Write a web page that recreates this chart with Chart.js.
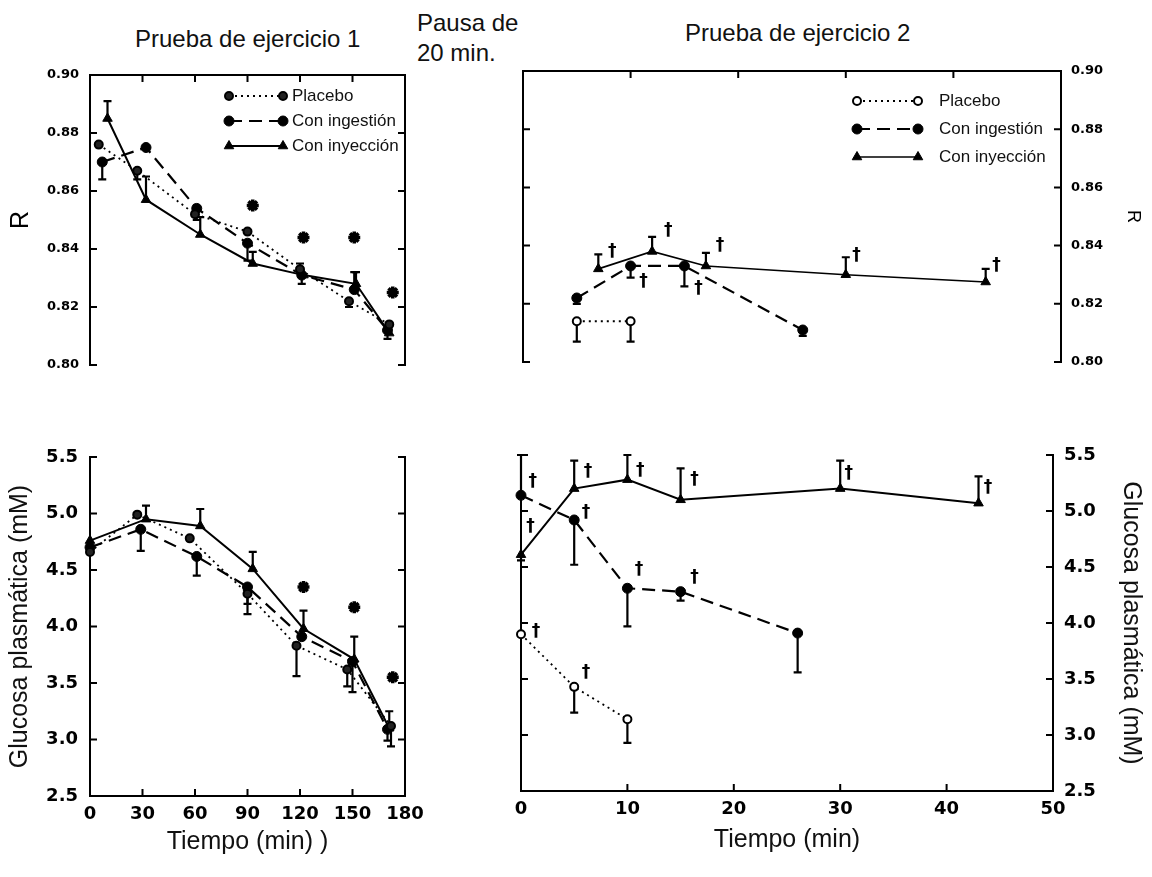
<!DOCTYPE html>
<html>
<head>
<meta charset="utf-8">
<script src="https://cdn.jsdelivr.net/npm/chart.js@4.4.0/dist/chart.umd.min.js"></script>
<style>
  body { margin:0; background:#fff; width:1152px; height:877px; position:relative; overflow:hidden;
         font-family:"Liberation Sans", Arial, sans-serif; color:#111; }
  canvas { position:absolute; left:0; top:0; }
  .lbl { position:absolute; font-size:24px; line-height:1; white-space:nowrap; }
</style>
</head>
<body>
<div class="lbl" style="left:135px;top:27px">Prueba de ejercicio 1</div>
<div class="lbl" style="left:417px;top:11px">Pausa de</div>
<div class="lbl" style="left:417px;top:41px">20 min.</div>
<div class="lbl" style="left:685px;top:21px">Prueba de ejercicio 2</div>
<canvas id="tl" width="1152" height="877"></canvas>
<canvas id="tr" width="1152" height="877"></canvas>
<canvas id="bl" width="1152" height="877"></canvas>
<canvas id="br" width="1152" height="877"></canvas>
<script>
// ---- Prueba 1, R (cociente respiratorio) ----
const t1Placebo   = [5, 27, 60, 90, 120, 148, 171];
const r1Placebo   = [0.876, 0.867, 0.852, 0.846, 0.833, 0.822, 0.814];
const r1PlaceboErr = [0, -0.003, 0, 0, 0.002, -0.002, 0];
const t1Ingestion = [7, 32, 61, 90, 121, 151, 170];
const r1Ingestion = [0.870, 0.875, 0.854, 0.842, 0.831, 0.826, 0.812];
const r1IngestionErr = [-0.006, 0, -0.004, -0.006, -0.003, 0.006, -0.003];
const t1Inyeccion = [10, 32, 63, 93, 122, 152, 171];
const r1Inyeccion = [0.885, 0.857, 0.845, 0.835, 0.831, 0.828, 0.811];
const r1InyeccionErr = [0.006, 0.008, 0.006, 0.004, 0, 0.004, 0.003];
const t1StarR = [93, 122, 151, 173];
const r1Star  = [0.855, 0.844, 0.844, 0.825];

// ---- Prueba 1, glucosa ----
const g1PlaceboT = [0, 27, 57, 90, 118, 147, 172];
const g1Placebo  = [4.66, 4.99, 4.78, 4.29, 3.83, 3.62, 3.12];
const g1PlaceboErr = [0, 0, 0, -0.18, -0.27, -0.15, -0.18];
const g1IngestionT = [0, 29, 61, 90, 121, 150, 170];
const g1Ingestion  = [4.70, 4.86, 4.62, 4.35, 3.91, 3.69, 3.09];
const g1IngestionErr = [0, -0.19, -0.17, -0.15, 0, -0.27, -0.1];
const g1InyeccionT = [0, 32, 63, 93, 122, 151, 171];
const g1Inyeccion  = [4.76, 4.95, 4.89, 4.51, 3.98, 3.71, 3.10];
const g1InyeccionErr = [0, 0.12, 0.15, 0.15, 0.16, 0.2, 0.15];
const t1StarG = [122, 151, 173];
const g1Star  = [4.35, 4.17, 3.55];

// ---- Prueba 2, R ----
const t2Placebo = [5, 10];
const r2Placebo = [0.814, 0.814];
const r2PlaceboErr = [-0.007, -0.007];
const t2Ingestion = [5, 10, 15, 26];
const r2Ingestion = [0.822, 0.833, 0.833, 0.811];
const r2IngestionErr = [-0.002, -0.004, -0.007, -0.002];
const t2Inyeccion = [7, 12, 17, 30, 43];
const r2Inyeccion = [0.832, 0.838, 0.833, 0.830, 0.8275];
const r2InyeccionErr = [0.005, 0.005, 0.0045, 0.006, 0.0045];
const t2DagR = [8.3, 13.5, 18.3, 31, 44, 11.2, 16.3];
const r2Dag  = [0.838, 0.845, 0.840, 0.8366, 0.833, 0.8276, 0.8252];

// ---- Prueba 2, glucosa ----
const g2PlaceboT = [0, 5, 10];
const g2Placebo  = [3.90, 3.43, 3.14];
const g2PlaceboErr = [0, -0.23, -0.21];
const g2IngestionT = [0, 5, 10, 15, 26];
const g2Ingestion  = [5.14, 4.92, 4.31, 4.28, 3.91];
const g2IngestionErr = [0.36, -0.4, -0.34, -0.08, -0.35];
const g2InyeccionT = [0, 5, 10, 15, 30, 43];
const g2Inyeccion  = [4.61, 5.20, 5.28, 5.10, 5.20, 5.07];
const g2InyeccionErr = [-0.05, 0.25, 0.22, 0.28, 0.25, 0.24];
const t2DagG = [1.1, 0.9, 6.3, 11.2, 16.3, 30.8, 43.9, 6.1, 11.1, 16.3, 1.4, 6.1];
const g2Dag  = [5.26, 4.86, 5.35, 5.36, 5.28, 5.33, 5.21, 4.99, 4.48, 4.41, 3.92, 3.56];

const rTicks = [0.80, 0.82, 0.84, 0.86, 0.88, 0.90];
const gTicks = [2.5, 3.0, 3.5, 4.0, 4.5, 5.0, 5.5];

// caja con marcas hacia dentro
const frame = {
  id: 'frame',
  beforeDatasetsDraw(chart, args, o) {
    const {ctx, chartArea: a, scales: {x, y}} = chart;
    const s = o.sides || [];
    ctx.save();
    ctx.strokeStyle = '#000'; ctx.lineWidth = 2; ctx.lineCap = 'square';
    ctx.beginPath();
    if (s.includes('left'))   { ctx.moveTo(a.left, a.top);  ctx.lineTo(a.left, a.bottom); }
    if (s.includes('right'))  { ctx.moveTo(a.right, a.top); ctx.lineTo(a.right, a.bottom); }
    if (s.includes('top'))    { ctx.moveTo(a.left, a.top);  ctx.lineTo(a.right, a.top); }
    if (s.includes('bottom')) { ctx.moveTo(a.left, a.bottom); ctx.lineTo(a.right, a.bottom); }
    const L = 6;
    (o.yTicks || []).forEach(v => {
      const py = y.getPixelForValue(v);
      if (s.includes('left'))  { ctx.moveTo(a.left, py);  ctx.lineTo(a.left + L, py); }
      if (s.includes('right')) { ctx.moveTo(a.right, py); ctx.lineTo(a.right - L, py); }
    });
    (o.xTicks || []).forEach(v => {
      const px = x.getPixelForValue(v);
      if (s.includes('top'))    { ctx.moveTo(px, a.top);    ctx.lineTo(px, a.top + L); }
      if (s.includes('bottom')) { ctx.moveTo(px, a.bottom); ctx.lineTo(px, a.bottom - L); }
    });
    ctx.stroke();
    ctx.restore();
  }
};

// barras de error de un solo lado (err > 0 arriba, < 0 abajo)
const errorBars = {
  id: 'errorBars',
  beforeDatasetsDraw(chart) {
    const {ctx, scales: {x, y}} = chart;
    ctx.save();
    ctx.strokeStyle = '#000'; ctx.lineWidth = 2.2; ctx.setLineDash([]);
    chart.data.datasets.forEach(ds => {
      (ds.err || []).forEach((e, i) => {
        if (!e) return;
        const p = ds.data[i];
        const px = x.getPixelForValue(p.x);
        const y0 = y.getPixelForValue(p.y), y1 = y.getPixelForValue(p.y + e);
        ctx.beginPath();
        ctx.moveTo(px, y0); ctx.lineTo(px, y1);
        ctx.moveTo(px - 4, y1); ctx.lineTo(px + 4, y1);
        ctx.stroke();
      });
    });
    ctx.restore();
  }
};

// signos de significación (†)
const marks = {
  id: 'marks',
  afterDatasetsDraw(chart, args, o) {
    if (!o.xs) return;
    const {ctx, scales: {x, y}} = chart;
    ctx.save();
    ctx.fillStyle = '#000'; ctx.font = o.font;
    ctx.textAlign = 'center'; ctx.textBaseline = 'middle';
    o.xs.forEach((t, i) => ctx.fillText(o.text, x.getPixelForValue(t), y.getPixelForValue(o.ys[i])));
    ctx.restore();
  }
};

// leyenda: marcador - línea - marcador  texto
const keyBox = {
  id: 'keyBox',
  afterDraw(chart, args, o) {
    if (!o.rows) return;
    const ctx = chart.ctx;
    ctx.save();
    o.rows.forEach((yy, i) => {
      const ds = chart.data.datasets[i];
      ctx.strokeStyle = '#000';
      ctx.lineWidth = ds.borderWidth;
      ctx.setLineDash(ds.borderDash || []);
      ctx.beginPath(); ctx.moveTo(o.x0, yy); ctx.lineTo(o.x1, yy); ctx.stroke();
      ctx.setLineDash([]);
      [o.x0, o.x1].forEach(px => {
        ctx.fillStyle = ds.pointBackgroundColor;
        ctx.lineWidth = ds.pointBorderWidth || 1;
        Chart.helpers.drawPoint(ctx, {pointStyle: ds.pointStyle, radius: ds.pointRadius,
          borderWidth: ds.pointBorderWidth || 1, rotation: 0}, px, yy);
      });
      ctx.fillStyle = '#111'; ctx.font = o.font;
      ctx.textAlign = 'left'; ctx.textBaseline = 'middle';
      ctx.fillText(ds.label, o.tx, yy);
    });
    ctx.restore();
  }
};

function serie(xs, ys, err, style) {
  return Object.assign({
    data: xs.map((x, i) => ({x, y: ys[i]})), err,
    showLine: true, clip: false, borderColor: '#000', pointBorderColor: '#000', tension: 0
  }, style);
}
const placebo = (fillC) => ({label: 'Placebo', borderDash: [2, 4], borderWidth: 1.8,
  pointStyle: 'circle', pointRadius: 4, pointBorderWidth: 2, pointBackgroundColor: fillC});
const ingestion = {label: 'Con ingestión', borderDash: [13, 7], borderWidth: 2.2,
  pointStyle: 'circle', pointRadius: 5, pointBorderWidth: 1, pointBackgroundColor: '#000'};
const inyeccion = {label: 'Con inyección', borderWidth: 2, pointStyle: 'triangle',
  pointRadius: 5.5, pointBorderWidth: 1, pointBackgroundColor: '#000'};
function stars(xs, ys) {
  return {data: xs.map((x, i) => ({x, y: ys[i]})), showLine: false, clip: false,
    pointStyle: 'star', pointRadius: 6, pointBorderWidth: 3.5, borderColor: '#000', backgroundColor: '#000'};
}

const tickFontR = {family: 'DejaVu Sans', weight: 'bold', size: 13};
const tickFontG = {family: 'DejaVu Sans', weight: 'bold', size: 18};
const titleFont = (size) => ({family: 'Liberation Sans', size: size});
const noGrid = {display: false, drawTicks: false};
const base = {
  responsive: false, animation: false, events: [],
  plugins: {legend: {display: false}, tooltip: {enabled: false}}
};

function panel(id, datasets, layoutPad, scales, pluginOpts) {
  return new Chart(document.getElementById(id), {
    type: 'scatter',
    data: {datasets},
    options: Object.assign({}, base, {
      layout: {padding: layoutPad},
      scales,
      plugins: Object.assign({}, base.plugins, pluginOpts)
    }),
    plugins: [frame, errorBars, marks, keyBox]
  });
}

// Arriba izquierda
panel('tl', [
  serie(t1Placebo, r1Placebo, r1PlaceboErr, placebo('#222')),
  serie(t1Ingestion, r1Ingestion, r1IngestionErr, ingestion),
  serie(t1Inyeccion, r1Inyeccion, r1InyeccionErr, inyeccion),
  stars(t1StarR, r1Star)
], {left: 0, top: 75, right: 747, bottom: 512}, {
  x: {type: 'linear', min: 0, max: 180, display: false},
  y: {min: 0.80, max: 0.90, position: 'left', afterFit(s) { s.width = 90; },
      grid: noGrid, border: {display: false},
      ticks: {stepSize: 0.02, font: tickFontR, color: '#000', padding: 11, callback: v => v.toFixed(2)},
      title: {display: true, text: 'R', font: titleFont(25), color: '#000', padding: {top: 6}}}
}, {
  frame: {sides: ['left', 'top', 'right'], yTicks: rTicks, xTicks: [30, 60, 90, 120, 150]},
  keyBox: {rows: [96, 121, 146], x0: 229, x1: 283, tx: 292, font: '17px "Liberation Sans", Arial'}
});

// Arriba derecha
panel('tr', [
  serie(t2Placebo, r2Placebo, r2PlaceboErr, placebo('#fff')),
  serie(t2Ingestion, r2Ingestion, r2IngestionErr, ingestion),
  serie(t2Inyeccion, r2Inyeccion, r2InyeccionErr, Object.assign({}, inyeccion, {borderWidth: 1.6}))
], {left: 523, top: 71, right: 0, bottom: 515}, {
  x: {type: 'linear', min: 0, max: 50, display: false},
  y: {min: 0.80, max: 0.90, position: 'right', afterFit(s) { s.width = 91; },
      grid: noGrid, border: {display: false},
      ticks: {stepSize: 0.02, font: tickFontR, color: '#000', padding: 10, callback: v => v.toFixed(2)},
      title: {display: true, text: 'R', font: titleFont(18), color: '#000', padding: {top: 8}}}
}, {
  frame: {sides: ['left', 'top', 'right'], yTicks: rTicks, xTicks: [10, 20, 30, 40]},
  marks: {xs: t2DagR, ys: r2Dag, text: '†', font: 'bold 17px "DejaVu Sans"'},
  keyBox: {rows: [101, 129, 157], x0: 857, x1: 918, tx: 939, font: '17px "Liberation Sans", Arial'}
});

// Abajo izquierda
panel('bl', [
  serie(g1PlaceboT, g1Placebo, g1PlaceboErr, placebo('#222')),
  serie(g1IngestionT, g1Ingestion, g1IngestionErr, ingestion),
  serie(g1InyeccionT, g1Inyeccion, g1InyeccionErr, inyeccion),
  stars(t1StarG, g1Star)
], {left: 0, top: 457, right: 747, bottom: 0}, {
  x: {type: 'linear', min: 0, max: 180, position: 'bottom', afterFit(s) { s.height = 81; },
      grid: noGrid, border: {display: false},
      ticks: {stepSize: 30, font: tickFontG, color: '#000', padding: 8, maxRotation: 0},
      title: {display: true, text: 'Tiempo (min) )', font: titleFont(25), color: '#111', padding: {bottom: 20}}},
  y: {min: 2.5, max: 5.5, position: 'left', afterFit(s) { s.width = 90; },
      grid: noGrid, border: {display: false},
      ticks: {stepSize: 0.5, font: tickFontG, color: '#000', padding: 12, callback: v => v.toFixed(1)},
      title: {display: true, text: 'Glucosa plasmática (mM)', font: titleFont(25), color: '#111', padding: {top: 5}}}
}, {
  frame: {sides: ['left', 'bottom', 'right'], yTicks: gTicks, xTicks: [30, 60, 90, 120, 150]}
});

// Abajo derecha
panel('br', [
  serie(g2PlaceboT, g2Placebo, g2PlaceboErr, placebo('#fff')),
  serie(g2IngestionT, g2Ingestion, g2IngestionErr, ingestion),
  serie(g2InyeccionT, g2Inyeccion, g2InyeccionErr, Object.assign({}, inyeccion, {borderWidth: 2}))
], {left: 521, top: 455, right: 0, bottom: 0}, {
  x: {type: 'linear', min: 0, max: 50, position: 'bottom', afterFit(s) { s.height = 86; },
      grid: noGrid, border: {display: false},
      ticks: {stepSize: 10, font: tickFontG, color: '#000', padding: 8, maxRotation: 0},
      title: {display: true, text: 'Tiempo (min)', font: titleFont(25), color: '#111', padding: {bottom: 22}}},
  y: {min: 2.5, max: 5.5, position: 'right', afterFit(s) { s.width = 99; },
      grid: noGrid, border: {display: false},
      ticks: {stepSize: 0.5, font: tickFontG, color: '#000', padding: 11, callback: v => v.toFixed(1)},
      title: {display: true, text: 'Glucosa plasmática (mM)', font: titleFont(25), color: '#111', padding: {top: 6}}}
}, {
  frame: {sides: ['left', 'bottom', 'right'], yTicks: gTicks, xTicks: [10, 20, 30, 40]},
  marks: {xs: t2DagG, ys: g2Dag, text: '†', font: 'bold 17px "DejaVu Sans"'}
});
</script>
</body>
</html>
